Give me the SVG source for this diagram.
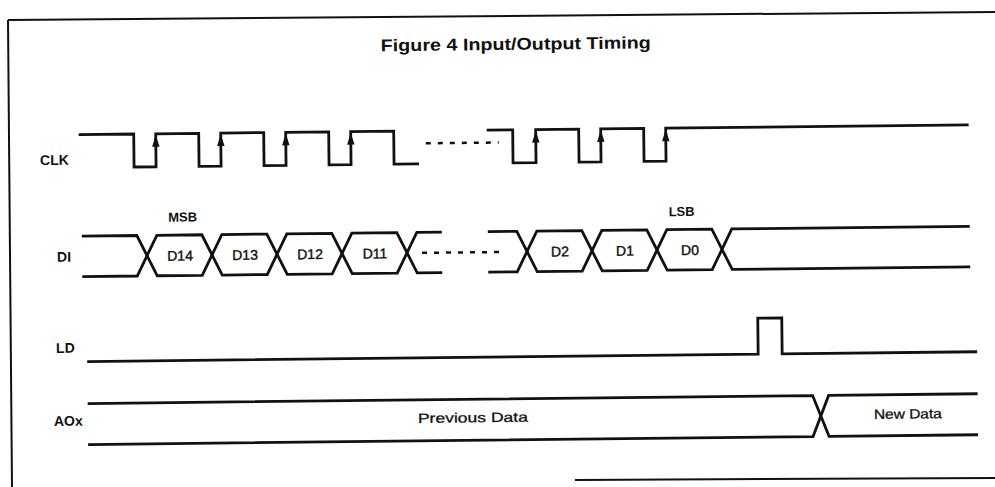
<svg xmlns="http://www.w3.org/2000/svg" width="995" height="487" viewBox="0 0 995 487">
<style>
.w{fill:none;stroke:#111;stroke-width:2.8;stroke-linejoin:miter;stroke-linecap:butt}
.d{fill:none;stroke:#111;stroke-width:2.5;stroke-dasharray:5 7}
.b{fill:none;stroke:#111;stroke-width:2}
.ar{fill:#111}
.t{font-family:"Liberation Sans",Arial,sans-serif;fill:#111}
.lab{font-size:14px;font-weight:bold}
.bit{font-size:14px;text-anchor:middle;stroke:#111;stroke-width:0.4}
.ttl{font-size:17px;font-weight:bold;text-anchor:middle}
.sm{font-size:13px;text-anchor:middle;font-weight:bold}
.dat{font-size:13.5px;text-anchor:middle;stroke:#111;stroke-width:0.3}
</style>
<rect width="995" height="487" fill="#fff"/>
<g id="border">
<path class="b" d="M8,20 L995,12"/>
<path class="b" d="M8,20 L12,487"/>
<path class="b" d="M575,480 L995,478"/>
</g>
<g transform="rotate(-0.63 500 250)">
<text class="t ttl" x="518" y="50" textLength="270" lengthAdjust="spacingAndGlyphs">Figure 4  Input/Output Timing</text>
<g id="clk">
<text class="t lab" x="41" y="160">CLK</text>
<path class="w" d="M80,130 H135 V163 H157 V130 H200 V163 H222 V130 H265 V163 H287 V130 H330 V163 H352 V130 H395 V163 H420"/>
<path class="d" d="M427,142.5 H500"/>
<path class="w" d="M488,130 H514 V163 H537 V130 H580 V163 H602 V130 H645 V163 H667 V130 H970"/>
<path class="ar" d="M157,131 L153.3,143 L160.7,143 Z M222,131 L218.3,143 L225.7,143 Z M287,131 L283.3,143 L290.7,143 Z M352,131 L348.3,143 L355.7,143 Z M537,131 L533.3,143 L540.7,143 Z M602,131 L598.3,143 L605.7,143 Z M667,131 L663.3,143 L670.7,143 Z"/>
</g>
<g id="di">
<text class="t lab" x="57" y="257">DI</text>
<text class="t sm" x="183" y="218">MSB</text>
<text class="t sm" x="682" y="218">LSB</text>
<path class="w" d="M82,231.5 H137 L157,272 H202 L222,231.5 H267 L287,272 H332 L352,231.5 H397 L417,272 H442"/>
<path class="w" d="M82,272 H137 L157,231.5 H202 L222,272 H267 L287,231.5 H332 L352,272 H397 L417,231.5 H442"/>
<path class="d" d="M422,252 H505"/>
<path class="w" d="M488,231.5 H517 L537,272 H582 L602,231.5 H647 L667,272 H712 L732,231.5 H970"/>
<path class="w" d="M488,272 H517 L537,231.5 H582 L602,272 H647 L667,231.5 H712 L732,272 H970"/>
<text class="t bit" x="180" y="257">D14</text>
<text class="t bit" x="245" y="257">D13</text>
<text class="t bit" x="310" y="257">D12</text>
<text class="t bit" x="375" y="257">D11</text>
<text class="t bit" x="560" y="257">D2</text>
<text class="t bit" x="625" y="257">D1</text>
<text class="t bit" x="690" y="257">D0</text>
</g>
<g id="ld">
<text class="t lab" x="55" y="348">LD</text>
<path class="w" d="M86,357 H757 V321 H781 V357 H976"/>
</g>
<g id="aox">
<text class="t lab" x="52" y="421">AOx</text>
<path class="w" d="M86,399 H811 L827,440 H976"/>
<path class="w" d="M86,440 H811 L827,399 H976"/>
<text class="t dat" x="471" y="422" textLength="110" lengthAdjust="spacingAndGlyphs">Previous Data</text>
<text class="t dat" x="906" y="423" textLength="68" lengthAdjust="spacingAndGlyphs">New Data</text>
</g>
</g>
</svg>
